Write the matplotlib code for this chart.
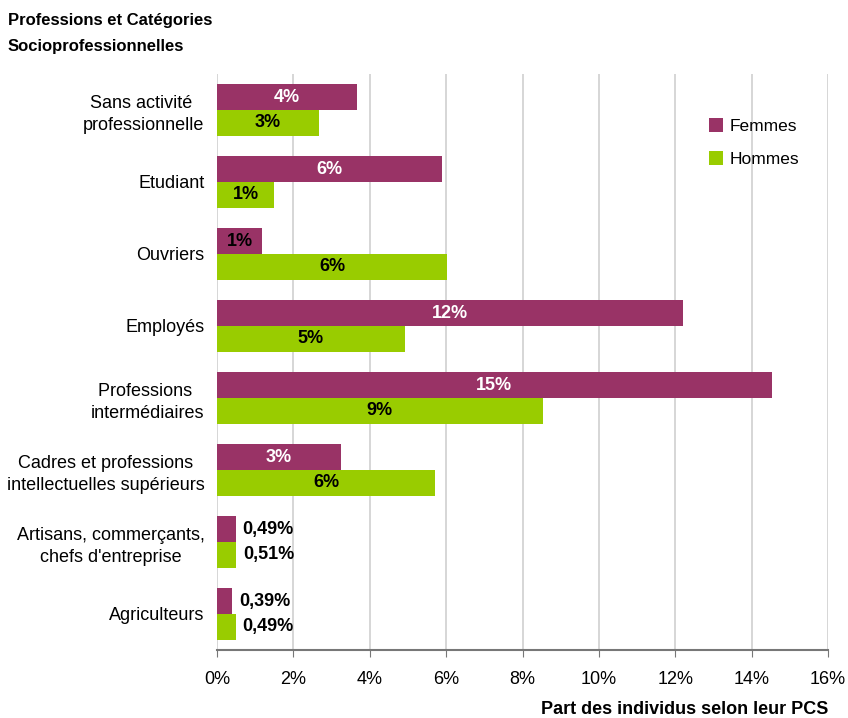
import matplotlib.pyplot as plt
import numpy as np

plt.rcParams["font.family"] = ["Liberation Sans", "DejaVu Sans"]
font_size = 13

categories = ["Sans activité \nprofessionnelle", "Etudiant", "Ouvriers", "Employés",
              "Professions \nintermédiaires", "Cadres et professions\nintellectuelles supérieurs",
              "Artisans, commerçants,\nchefs d'entreprise", "Agriculteurs"]
femmes = [3.67, 5.89, 1.18, 12.2, 14.53, 3.25, 0.49, 0.39]
hommes = [2.67, 1.49, 6.02, 4.92, 8.53, 5.71, 0.51, 0.49]
femmes_txt = ["4%", "6%", "1%", "12%", "15%", "3%", "0,49%", "0,39%"]
hommes_txt = ["3%", "1%", "6%", "5%", "9%", "6%", "0,51%", "0,49%"]

color_f = "#993366"
color_h = "#99CC00"

fig = plt.figure(figsize=(8.48, 7.18), dpi=100)
ax = fig.add_axes([217/848, 68/718, 611/848, 576/718])

y = np.arange(len(categories))
h = 0.36
ax.barh(y - h/2, femmes, h, color=color_f, label="Femmes", zorder=2)
ax.barh(y + h/2, hommes, h, color=color_h, label="Hommes", zorder=2)

for i in range(len(categories)):
    # femmes
    if femmes[i] < 1:
        ax.text(femmes[i] + 0.18, y[i] - h/2, femmes_txt[i], ha="left", va="center",
                fontsize=font_size, fontweight="bold", color="black")
    else:
        c = "black" if femmes[i] < 2 else "white"
        ax.text(femmes[i]/2, y[i] - h/2, femmes_txt[i], ha="center", va="center",
                fontsize=font_size, fontweight="bold", color=c)
    # hommes
    if hommes[i] < 1:
        ax.text(hommes[i] + 0.18, y[i] + h/2, hommes_txt[i], ha="left", va="center",
                fontsize=font_size, fontweight="bold", color="black")
    else:
        ax.text(hommes[i]/2, y[i] + h/2, hommes_txt[i], ha="center", va="center",
                fontsize=font_size, fontweight="bold", color="black")

ax.set_xlim(0, 16)
ax.set_ylim(len(categories) - 0.5, -0.5)
ax.set_xticks(np.arange(0, 17, 2))
ax.set_xticklabels([f"{v}%" for v in range(0, 17, 2)], fontsize=font_size)
ax.set_yticks(y)
ax.set_yticklabels(categories, fontsize=font_size, multialignment="center", linespacing=1.4)
ax.tick_params(axis="y", length=0, pad=9)
ax.tick_params(axis="x", length=5, color="#777777", pad=10)
ax.xaxis.grid(True, color="#d0d0d0", linewidth=1.2, zorder=0)
ax.set_axisbelow(True)
for s in ["top", "right", "left"]:
    ax.spines[s].set_visible(False)
ax.spines["bottom"].set_color("#777777")
ax.spines["bottom"].set_linewidth(1.5)

ax.legend(loc="upper left", bbox_to_anchor=(0.78, 0.95), frameon=False,
          prop={"size": 12.5}, handlelength=0.8, handleheight=0.8,
          handletextpad=0.4, labelspacing=1.0)

fig.text(8/848, 1 - 20/718, "Professions et Catégories", fontsize=12,
         fontweight="bold", va="center", ha="left")
fig.text(8/848, 1 - 47/718, "Socioprofessionnelles", fontsize=12,
         fontweight="bold", va="center", ha="left")
fig.text(828/848, 1 - 709/718, "Part des individus selon leur PCS", fontsize=font_size,
         fontweight="bold", va="center", ha="right")

fig.savefig("out.png", dpi=100)
